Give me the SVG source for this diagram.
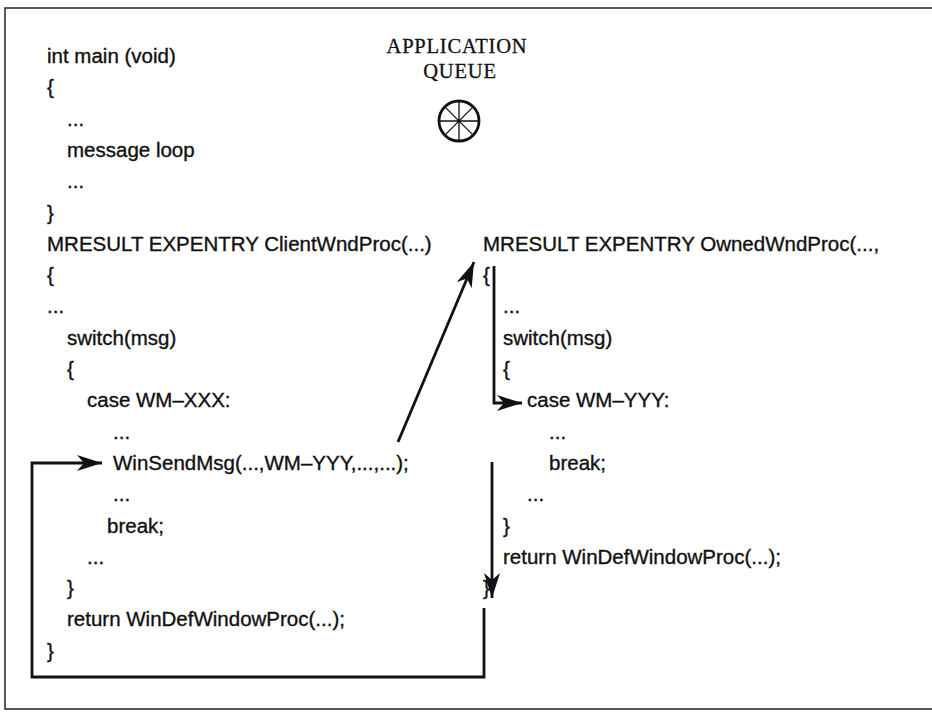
<svg xmlns="http://www.w3.org/2000/svg" width="932" height="713" viewBox="0 0 932 713">
  <style>
    .code { font-family: "Liberation Sans", Arial, sans-serif; font-size: 20.5px; fill: #111; stroke: #111; stroke-width: 0.35; }
    .title { font-family: "Liberation Serif", "Times New Roman", serif; font-size: 20.5px; fill: #111; stroke: #111; stroke-width: 0.3; letter-spacing: 0.8px; text-anchor: middle; }
    .frame { fill: none; stroke: #222; stroke-width: 1.5; }
    .flow { fill: none; stroke: #111; stroke-width: 2.8; }
  </style>
  <defs>
    <marker id="head" markerUnits="userSpaceOnUse" markerWidth="28" markerHeight="20" refX="25" refY="8" orient="auto">
      <path d="M0,0 L25,8 L0,16 L7,8 z" fill="#111"/>
    </marker>
  </defs>

  <rect width="932" height="713" fill="#fff"/>

  <!-- page frame -->
  <g id="frame">
    <path class="frame" d="M932,8 H5 V709 H932"/>
  </g>

  <!-- application queue -->
  <g id="queue">
    <text class="title" x="457" y="53">APPLICATION</text>
    <text class="title" x="460" y="78">QUEUE</text>
    <g stroke="#111" fill="none">
      <circle cx="459" cy="121" r="20" stroke-width="2.8"/>
      <path stroke-width="1.3" d="M459,101 V141 M439,121 H479 M444.9,106.9 L473.1,135.1 M473.1,106.9 L444.9,135.1"/>
    </g>
  </g>

  <!-- main() -->
  <g id="main">
    <text class="code" x="47" y="63">int main (void)</text>
    <text class="code" x="47" y="94">{</text>
    <text class="code" x="67" y="126">...</text>
    <text class="code" x="67" y="157">message loop</text>
    <text class="code" x="67" y="188">...</text>
    <text class="code" x="47" y="220">}</text>
  </g>

  <!-- ClientWndProc -->
  <g id="client-proc">
    <text class="code" x="47" y="251">MRESULT EXPENTRY ClientWndProc(...)</text>
    <text class="code" x="47" y="282">{</text>
    <text class="code" x="47" y="313">...</text>
    <text class="code" x="67" y="345">switch(msg)</text>
    <text class="code" x="67" y="376">{</text>
    <text class="code" x="87" y="407">case WM–XXX:</text>
    <text class="code" x="113" y="439">...</text>
    <text class="code" x="113" y="470">WinSendMsg(...,WM–YYY,...,...);</text>
    <text class="code" x="113" y="501">...</text>
    <text class="code" x="107" y="533">break;</text>
    <text class="code" x="87" y="564">...</text>
    <text class="code" x="67" y="595">}</text>
    <text class="code" x="67" y="626">return WinDefWindowProc(...);</text>
    <text class="code" x="47" y="658">}</text>
  </g>

  <!-- OwnedWndProc -->
  <g id="owned-proc">
    <text class="code" x="483" y="251">MRESULT EXPENTRY OwnedWndProc(...,</text>
    <text class="code" x="483" y="282">{</text>
    <text class="code" x="503" y="313">...</text>
    <text class="code" x="503" y="345">switch(msg)</text>
    <text class="code" x="503" y="376">{</text>
    <text class="code" x="527" y="407">case WM–YYY:</text>
    <text class="code" x="549" y="439">...</text>
    <text class="code" x="549" y="470">break;</text>
    <text class="code" x="527" y="501">...</text>
    <text class="code" x="503" y="533">}</text>
    <text class="code" x="503" y="564">return WinDefWindowProc(...);</text>
    <text class="code" x="483" y="595">}</text>
  </g>

  <!-- control flow -->
  <g id="connectors">
    <path class="flow" d="M398,442 L474,262" marker-end="url(#head)"/>
    <path class="flow" d="M494,266 V403 H522" marker-end="url(#head)"/>
    <path class="flow" d="M492,462 V598" marker-end="url(#head)"/>
    <path class="flow" d="M484,608 V677 H32 V463 H102" marker-end="url(#head)"/>
  </g>
</svg>
